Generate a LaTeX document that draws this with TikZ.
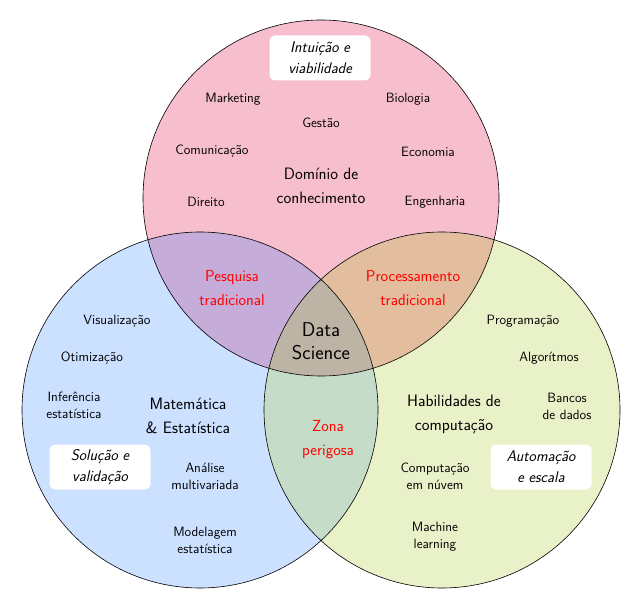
\documentclass[tikz,border=0pt]{standalone}
\usepackage{fontspec}
\definecolor{knowpink}{RGB}{247,190,206}
\definecolor{mathblue}{RGB}{204,224,255}
\definecolor{compgreen}{RGB}{232,241,200}
\definecolor{purplezone}{RGB}{198,172,216}
\definecolor{tanzone}{RGB}{226,190,158}
\definecolor{greenzone}{RGB}{196,220,200}
\definecolor{corezone}{RGB}{190,180,166}
\tikzset{
  item/.style={align=center, font=\sffamily\fontsize{13.5}{17}\selectfont},
  area/.style={align=center, font=\sffamily\fontsize{16.5}{24}\selectfont},
  zone/.style={align=center, text=red, font=\sffamily\fontsize{16}{24}\selectfont},
  tag/.style={fill=white, rounded corners=6pt, minimum width=101pt,
    minimum height=45pt, align=center, font=\sffamily\itshape\fontsize{15.5}{21}\selectfont}
}
\begin{document}
\begin{tikzpicture}[x=1pt, y=-1pt]
    \useasboundingbox (0,0) rectangle (642,609);
    \coordinate (K) at (321,198);
    \coordinate (M) at (200,410);
    \coordinate (C) at (442,410);
    % circles and overlaps
    \fill[knowpink] (K) circle (178pt);
    \fill[mathblue] (M) circle (178pt);
    \fill[compgreen] (C) circle (178pt);
    \begin{scope}
        \clip (K) circle (178pt);
        \fill[purplezone] (M) circle (178pt);
        \fill[tanzone] (C) circle (178pt);
    \end{scope}
    \begin{scope}
        \clip (M) circle (178pt);
        \fill[greenzone] (C) circle (178pt);
    \end{scope}
    \begin{scope}
        \clip (K) circle (178pt);
        \clip (M) circle (178pt);
        \fill[corezone] (C) circle (178pt);
    \end{scope}
    \draw[line width=0.6pt]
        (K) circle (178pt)
        (M) circle (178pt)
        (C) circle (178pt);
    % domain knowledge
    \node[tag] (intuicao) at (320,58) {Intuição e\\viabilidade};
    \node[item] (mkt) at (233,99) {Marketing};
    \node[item] (bio) at (408,99) {Biologia};
    \node[item] (gest) at (321,123) {Gestão};
    \node[item] (com) at (212,151) {Comunicação};
    \node[item] (eco) at (428,152) {Economia};
    \node[area] (dominio) at (321,186) {Domínio de\\conhecimento};
    \node[item] (dir) at (206,202) {Direito};
    \node[item] (eng) at (435,202) {Engenharia};
    % overlaps
    \node[zone] (pesq) at (232,288) {Pesquisa\\tradicional};
    \node[zone] (proc) at (413,288) {Processamento\\tradicional};
    \node[align=center, font=\sffamily\fontsize{20}{23}\selectfont] (ds) at (321,341) {Data\\Science};
    \node[zone] (perigo) at (328,440) {Zona\\perigosa};
    % math
    \node[item] (vis) at (117,321) {Visualização};
    \node[item] (otim) at (92,358) {Otimização};
    \node[item] (infer) at (74,405) {Inferência\\estatística};
    \node[area] (mat) at (188,416) {Matemática\\\& Estatística};
    \node[tag] (solucao) at (100,467) {Solução e\\validação};
    \node[item] (anal) at (205,476) {Análise\\multivariada};
    \node[item] (model) at (205,540) {Modelagem\\estatística};
    % computing
    \node[item] (prog) at (523,321) {Programação};
    \node[item] (algo) at (549,358) {Algorítmos};
    \node[item] (bd) at (567,406) {Bancos\\de dados};
    \node[area] (hab) at (454,414) {Habilidades de\\computação};
    \node[tag] (autom) at (541,467) {Automação\\e escala};
    \node[item] (nuvem) at (435,476) {Computação\\em núvem};
    \node[item] (ml) at (435,537) {Machine\\learning};
\end{tikzpicture}
\end{document}
